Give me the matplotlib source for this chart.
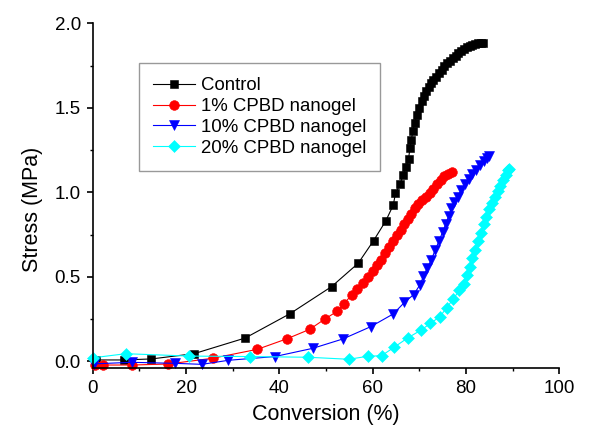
import matplotlib
matplotlib.use("Agg")
import matplotlib.pyplot as plt
from matplotlib.ticker import MultipleLocator, FormatStrFormatter

plt.rcParams['font.family'] = ['Liberation Sans', 'DejaVu Sans']

# ---- data ----
control_x = [0.8, 6.6, 12.6, 21.7, 32.7, 42.3, 51.2, 56.9, 60.2, 62.8, 64.4, 64.9, 65.9, 66.5, 67.2, 67.7,
             68.0, 68.3, 68.6, 69.0, 69.5, 70.0, 70.5, 71.0, 71.5, 72.0, 72.5, 73.0, 73.6, 74.2, 74.8, 75.4,
             76.0, 76.6, 77.2, 77.8, 78.4, 79.0, 79.6, 80.2, 80.8, 81.4, 82.0, 82.6, 83.2, 83.6]
control_y = [0.008, 0.008, 0.014, 0.045, 0.138, 0.282, 0.442, 0.580, 0.714, 0.830, 0.923, 0.993, 1.049,
             1.101, 1.150, 1.200, 1.260, 1.310, 1.360, 1.410, 1.460, 1.500, 1.540, 1.570, 1.600, 1.625,
             1.645, 1.665, 1.685, 1.705, 1.725, 1.745, 1.763, 1.778, 1.793, 1.808, 1.822, 1.836, 1.848,
             1.858, 1.866, 1.872, 1.877, 1.881, 1.884, 1.884]

cpbd1_x = [0.5, 2.3, 8.4, 16.2, 25.7, 35.3, 41.7, 46.5, 49.7, 52.4, 53.8, 55.5, 56.6, 57.9, 59.0, 60.0,
           61.0, 61.8, 62.6, 63.4, 64.3, 65.2, 66.1, 66.8, 67.5, 68.2, 69.0, 69.8, 70.6, 71.4, 72.2, 73.0,
           73.8, 74.6, 75.4, 76.2, 77.0]
cpbd1_y = [-0.020, -0.022, -0.022, -0.016, 0.018, 0.071, 0.134, 0.189, 0.249, 0.296, 0.341, 0.391, 0.430,
           0.466, 0.500, 0.535, 0.568, 0.602, 0.638, 0.676, 0.712, 0.745, 0.775, 0.810, 0.840, 0.872, 0.905,
           0.930, 0.952, 0.970, 0.995, 1.022, 1.050, 1.075, 1.095, 1.110, 1.120]

cpbd10_x = [0.3, 8.4, 17.6, 23.4, 29.1, 39.0, 47.2, 53.6, 59.6, 64.4, 66.8, 68.8, 70.1, 70.9, 71.7, 72.6,
            73.4, 74.2, 75.0, 75.7, 76.3, 76.9, 77.5, 78.2, 79.0, 79.8, 80.6, 81.4, 82.2, 83.0, 83.8, 84.5, 85.0]
cpbd10_y = [-0.015, -0.006, -0.012, -0.018, 0.006, 0.028, 0.077, 0.132, 0.205, 0.280, 0.348, 0.395, 0.451,
            0.502, 0.552, 0.602, 0.658, 0.710, 0.765, 0.815, 0.860, 0.905, 0.940, 0.975, 1.015, 1.050,
            1.080, 1.110, 1.135, 1.160, 1.185, 1.205, 1.215]

cpbd20_x = [0.1, 7.1, 20.6, 33.8, 46.2, 54.9, 59.0, 61.9, 64.6, 67.5, 70.4, 72.4, 74.4, 75.9, 77.3, 78.6,
            79.5, 80.2, 80.8, 81.4, 82.0, 82.6, 83.2, 83.8, 84.4, 85.0, 85.6, 86.2, 86.8, 87.4, 88.0, 88.5,
            89.0, 89.3]
cpbd20_y = [0.021, 0.045, 0.031, 0.028, 0.024, 0.012, 0.030, 0.033, 0.083, 0.138, 0.185, 0.225, 0.264,
            0.318, 0.370, 0.420, 0.460, 0.510, 0.560, 0.610, 0.660, 0.710, 0.760, 0.810, 0.855, 0.900,
            0.935, 0.970, 1.005, 1.040, 1.075, 1.105, 1.130, 1.140]

labels = ["Control", "1% CPBD nanogel", "10% CPBD nanogel", "20% CPBD nanogel"]
x_ticks = [0, 20, 40, 60, 80, 100]
y_ticks = [0.0, 0.5, 1.0, 1.5, 2.0]

# ---- figure ----
fig = plt.figure(figsize=(6.02, 4.32), dpi=100)
ax = fig.add_axes([0.154, 0.148, 0.775, 0.798])

series = [
    (control_x, control_y, 'black', 's', 6.0),
    (cpbd1_x, cpbd1_y, 'red', 'o', 7.0),
    (cpbd10_x, cpbd10_y, 'blue', 'v', 7.5),
    (cpbd20_x, cpbd20_y, 'cyan', 'D', 5.8),
]
for (xs, ys, c, m, ms), lab in zip(series, labels):
    ax.plot(xs, ys, color=c, marker=m, markersize=ms, linewidth=0.8,
            markeredgewidth=0.4, markeredgecolor=c, label=lab, clip_on=False)

ax.set_xlim(0, 100)
ax.set_ylim(-0.04, 2.0)
ax.set_xticks(x_ticks)
ax.set_yticks(y_ticks)
ax.xaxis.set_minor_locator(MultipleLocator(10))
ax.yaxis.set_minor_locator(MultipleLocator(0.25))
ax.yaxis.set_major_formatter(FormatStrFormatter('%.1f'))

for s in ['top', 'right']:
    ax.spines[s].set_visible(False)
for s in ['left', 'bottom']:
    ax.spines[s].set_linewidth(1.2)

ax.tick_params(which='major', direction='out', length=4.5, width=1.2, labelsize=13.5, pad=4)
ax.tick_params(which='minor', direction='out', length=2.5, width=1.0)

ax.set_xlabel("Conversion (%)", fontsize=15.5)
ax.set_ylabel("Stress (MPa)", fontsize=15.5)
ax.xaxis.set_label_coords(0.5, -0.136)
ax.xaxis.label.set_va('center')
ax.yaxis.set_label_coords(-0.129, 0.461)
ax.yaxis.label.set_va('center')

leg = ax.legend(loc='upper left', bbox_to_anchor=(0.1, 0.884), borderaxespad=0,
                fontsize=13.4, frameon=True, fancybox=False, edgecolor='#808080',
                handlelength=2.25, handletextpad=0.3, labelspacing=0.2, borderpad=0.75)
leg.get_frame().set_linewidth(1.0)

fig.savefig("out.png", dpi=100)
